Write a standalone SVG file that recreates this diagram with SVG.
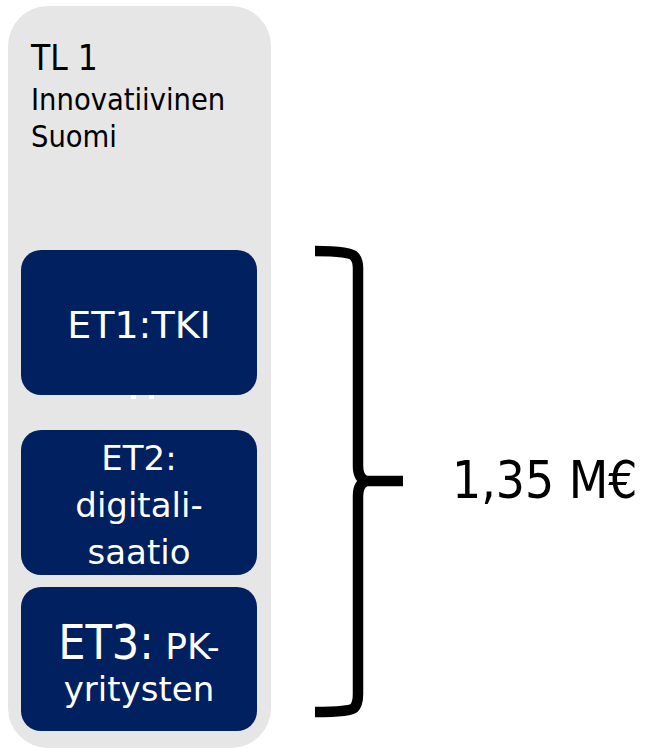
<svg xmlns="http://www.w3.org/2000/svg" width="646" height="751" viewBox="0 0 646 751">
<style>
.t{font-family:"DejaVu Sans Condensed","DejaVu Sans",Tahoma,sans-serif;font-stretch:condensed}
.n{font-family:"DejaVu Sans",Verdana,sans-serif}
.w{fill:#ffffff;text-anchor:middle}
.k{fill:#000000}
.box{fill:#002060}
</style>
<rect width="646" height="751" fill="#ffffff"/>
<g id="tl1">
<rect x="8" y="6" width="263" height="742" rx="40" ry="40" fill="#E6E6E6"/>
<text class="t k" x="31" y="70" font-size="35">TL 1</text>
<text class="t k" x="31" y="110" font-size="30.5">Innovatiivinen</text>
<text class="t k" x="31" y="147" font-size="30.5">Suomi</text>
</g>
<g id="et1">
<rect class="box" x="21" y="250" width="236" height="145" rx="20" ry="20"/>
<text class="n w" x="139" y="338" font-size="38">ET1:TKI</text>
<rect x="131" y="395" width="5" height="4" fill="#ffffff"/>
<rect x="149" y="395" width="5" height="4" fill="#ffffff"/>
</g>
<g id="et2">
<rect class="box" x="21" y="430" width="236" height="145" rx="20" ry="20"/>
<text class="n w" x="139" y="470" font-size="34">ET2:</text>
<text class="n w" x="139" y="517" font-size="34">digitali-</text>
<text class="n w" x="139" y="564" font-size="34">saatio</text>
</g>
<g id="et3">
<rect class="box" x="21" y="587" width="236" height="144" rx="20" ry="20"/>
<text class="n w" x="139" y="659"><tspan font-size="48" class="t">ET3:</tspan><tspan font-size="36"> PK-</tspan></text>
<text class="n w" x="139" y="701" font-size="34">yritysten</text>
</g>
<g id="connectors">
<path d="M315,251 Q350,251 354,256 Q358,260 358,268 L358,466 Q358,478 366,481 L403,481 M366,481 Q358,484 358,496 L358,694 Q358,704 354,708 Q350,712 315,712" fill="none" stroke="#000000" stroke-width="10.5" stroke-linejoin="round"/>
</g>
<g id="label">
<text class="t k" x="452" y="498" font-size="51">1,35 M€</text>
</g>
</svg>
